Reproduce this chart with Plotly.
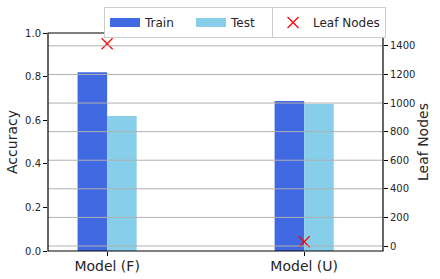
import plotly.graph_objects as go

categories = ["Model (F)", "Model (U)"]
train_acc = [0.82, 0.688]
test_acc = [0.619, 0.674]
leaf_nodes = [1415, 30]
left_ticks = [0.0, 0.2, 0.4, 0.6, 0.8, 1.0]
right_ticks = [0, 200, 400, 600, 800, 1000, 1200, 1400]

xpos = list(range(len(categories)))
font = "DejaVu Sans"
train_color = "#4169E1"
test_color = "#87CEEB"

fig = go.Figure()
fig.add_trace(go.Bar(x=xpos, y=train_acc, name="Train", marker=dict(color=train_color, line=dict(width=0)),
                     showlegend=False, offsetgroup="a"))
fig.add_trace(go.Bar(x=xpos, y=test_acc, name="Test", marker=dict(color=test_color, line=dict(width=0)),
                     showlegend=False, offsetgroup="b"))
# legend proxies (wide patch symbols like the reference)
for nm, col in (("Train", train_color), ("Test", test_color)):
    fig.add_trace(go.Scatter(x=[None], y=[None], name=nm, mode="lines",
                             line=dict(color=col, width=9), legend="legend", hoverinfo="skip"))
fig.add_trace(go.Scatter(x=xpos, y=leaf_nodes, name="Leaf Nodes", mode="markers", yaxis="y2",
                         marker=dict(symbol="x-thin-open", size=11, line=dict(color="red", width=1.2), color="red"),
                         legend="legend2"))

shapes = []
for t in right_ticks:
    shapes.append(dict(type="line", xref="paper", yref="y2", x0=0, x1=1, y0=t, y1=t,
                       line=dict(color="#b0b0b0", width=1), layer="above"))
shapes.append(dict(type="rect", xref="paper", yref="paper", x0=0, x1=1, y0=0, y1=1,
                   line=dict(color="black", width=1.2), layer="above"))

fig.update_layout(
    width=440, height=279,
    margin=dict(l=48, r=57, t=33, b=28, autoexpand=False),
    paper_bgcolor="white", plot_bgcolor="white",
    barmode="group", bargap=0.7, bargroupgap=0,
    font=dict(family=font, size=10, color="#262626"),
    shapes=shapes,
    xaxis=dict(range=[-0.3, 1.4], tickvals=xpos, ticktext=categories, tickfont=dict(size=14),
               showgrid=False, ticks="outside", ticklen=4, tickcolor="black", zeroline=False,
               automargin=False, ticklabelstandoff=-2),
    yaxis=dict(range=[0, 1.0], tickvals=left_ticks, tickformat=".1f", showgrid=False,
               ticks="outside", ticklen=4, tickcolor="black", zeroline=False, automargin=False,
               title=dict(text="Accuracy", font=dict(size=14), standoff=4)),
    yaxis2=dict(range=[-35, 1490], tickvals=right_ticks, overlaying="y", side="right", showgrid=False,
                ticks="outside", ticklen=4, tickcolor="black", zeroline=False, automargin=False,
                title=dict(text="Leaf Nodes", font=dict(size=14), standoff=2)),
    legend=dict(orientation="h", xref="container", yref="container", x=104/440, y=1-7/279,
                xanchor="left", yanchor="top", entrywidth=41,
                bordercolor="#cccccc", borderwidth=1, font=dict(size=12), itemwidth=30,
                bgcolor="white"),
    legend2=dict(orientation="h", xref="container", yref="container", x=272/440, y=1-7/279,
                 xanchor="left", yanchor="top",
                 bordercolor="#cccccc", borderwidth=1, font=dict(size=12), itemwidth=30,
                 bgcolor="white"),
)

fig.write_html("out.html", config={"displayModeBar": False},
               post_script="document.body.style.margin='0';document.body.style.overflow='hidden';")
